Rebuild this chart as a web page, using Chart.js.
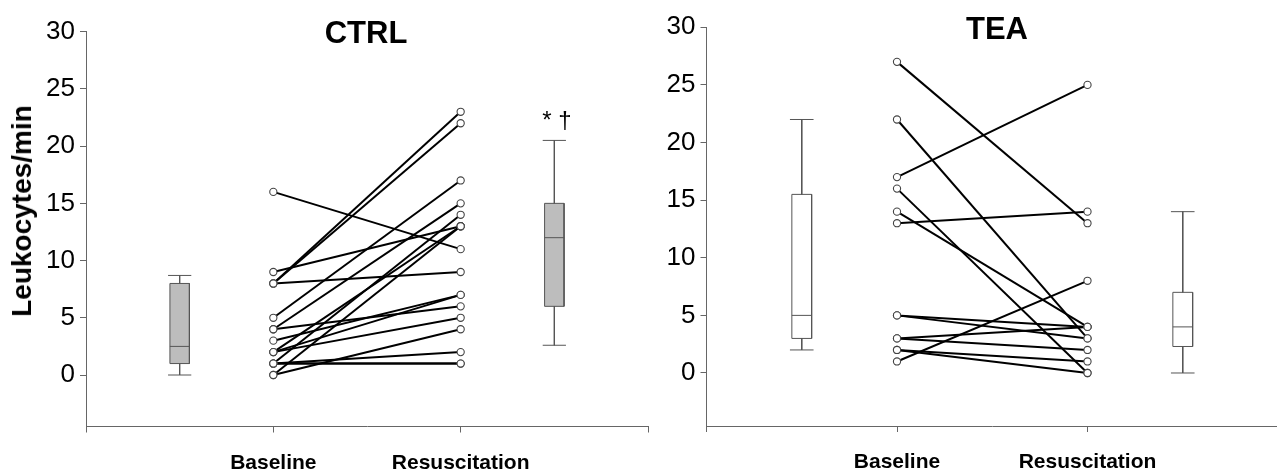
<!DOCTYPE html>
<html><head><meta charset="utf-8">
<script src="https://cdn.jsdelivr.net/npm/chart.js@4.4.0/dist/chart.umd.min.js"></script>
<style>
html,body{margin:0;padding:0;background:#fff;overflow:hidden;width:1277px;height:472px;}
#wrap{position:relative;width:1277px;height:472px;overflow:hidden;}
canvas{position:absolute;top:0;}
.t{position:absolute;font-family:"Liberation Sans",Arial,sans-serif;color:#000;white-space:nowrap;transform:translate(-50%,-50%);}
</style></head><body>
<div id="wrap">
<canvas id="c1" style="left:0" width="666" height="472"></canvas>
<canvas id="c2" style="left:640px" width="656" height="472"></canvas>
<div class="t" id="ylab" style="left:22px;top:211px;font-weight:bold;font-size:28px;transform:translate(-50%,-50%) rotate(-90deg);">Leukocytes/min</div>
<div class="t" style="left:366px;top:33px;font-weight:bold;font-size:31px;">CTRL</div>
<div class="t" style="left:997px;top:29px;font-weight:bold;font-size:31px;">TEA</div>
<div class="t" style="left:557px;top:120px;font-size:24px;">* †</div>
</div>
<script>
// ---- data ----
const categories = ['Baseline', 'Resuscitation'];
const xTickValues = [0, 1, 2, 3];
const xTickLabels = ['', 'Baseline', 'Resuscitation', ''];
const yTicks = [0, 5, 10, 15, 20, 25, 30];
const catX = [1, 2];
const boxX = [0.5, 2.5];

const ctrlBaseline = [16, 9, 8, 8, 8, 5, 4, 4, 3, 2, 2, 2, 1, 1, 1, 1, 0, 0];
const ctrlResus    = [11, 13, 23, 22, 9, 17, 15, 6, 7, 13, 7, 5, 14, 2, 1, 1, 13, 4];
const teaBaseline  = [27, 22, 17, 16, 14, 13, 5, 5, 3, 3, 2, 2, 1];
const teaResus     = [13, 3, 25, 0, 4, 14, 4, 3, 4, 2, 1, 0, 8];

// box stats: [min(whisker), q1, median, q3, max(whisker)]
const ctrlBoxBaseline = [0, 1, 2.5, 8, 8.7];
const ctrlBoxResus    = [2.6, 6, 12, 15, 20.5];
const teaBoxBaseline  = [2, 3, 5, 15.5, 22];
const teaBoxResus     = [0, 2.3, 4, 7, 14];

// ---- helpers ----
const FONT = '"Liberation Sans", Arial, sans-serif';
function boxDatasets(x, s, fillColor, hw, cw) {
  const rect = [{x:x-hw,y:s[1]},{x:x-hw,y:s[3]},{x:x+hw,y:s[3]},{x:x+hw,y:s[1]},{x:x-hw,y:s[1]}];
  const wh = [
    {x:x-cw,y:s[4]},{x:x+cw,y:s[4]},{x:x+cw,y:null},
    {x:x,y:s[4]},{x:x,y:s[3]},{x:x,y:null},
    {x:x,y:s[1]},{x:x,y:s[0]},{x:x,y:null},
    {x:x-cw,y:s[0]},{x:x+cw,y:s[0]},{x:x+cw,y:null},
    {x:x-hw,y:s[2]},{x:x+hw,y:s[2]}
  ];
  return [
    {data: rect, fill: 'shape', backgroundColor: fillColor, borderColor: '#555', borderWidth: 1, pointRadius: 0, order: 3},
    {data: wh, fill: false, borderColor: '#555', borderWidth: 1, pointRadius: 0, spanGaps: false, order: 2}
  ];
}
function makeChart(id, base, res, boxes, fillColor, opts) {
  const ds = [];
  const pts = [];
  base.forEach((b, i) => {
    ds.push({data: [{x:catX[0], y:b}, {x:catX[1], y:res[i]}], borderColor: '#000', borderWidth: 2, pointRadius: 0, fill: false, order: 1});
    pts.push({x:catX[0], y:b}, {x:catX[1], y:res[i]});
  });
  ds.push({data: pts, showLine: false, pointRadius: 3.6, pointBorderWidth: 1.1, pointBorderColor: '#444', pointBackgroundColor: '#fff', order: 0});
  boxes.forEach((s, i) => ds.push(...boxDatasets(boxX[i], s, fillColor, opts.hw, opts.cw)));
  return new Chart(document.getElementById(id), {
    type: 'line',
    data: {datasets: ds},
    options: {
      responsive: false, animation: false, devicePixelRatio: 1,
      layout: {padding: {top: opts.top, right: opts.right, left: 0, bottom: 0}},
      plugins: {legend: {display: false}, tooltip: {enabled: false}, title: {display: false}},
      elements: {line: {tension: 0}},
      scales: {
        x: {
          type: 'linear', min: 0, max: 3,
          afterBuildTicks: s => { s.ticks = xTickValues.map(v => ({value: v})); },
          afterFit: s => { s.height = opts.xh; },
          ticks: {callback: v => xTickLabels[v] || '', color: '#000', padding: 18, maxRotation: 0, autoSkip: false,
                  font: {family: FONT, size: 21, weight: 'bold'}},
          grid: {drawOnChartArea: false, drawTicks: true, tickLength: 6, color: '#666'},
          border: {display: true, color: '#666', width: 1}
        },
        y: {
          type: 'linear', min: opts.ymin, max: 30,
          afterBuildTicks: s => { s.ticks = yTicks.map(v => ({value: v})); },
          afterFit: s => { s.width = opts.yw; },
          ticks: {color: '#000', padding: 5, font: {family: FONT, size: 26}},
          grid: {drawOnChartArea: false, drawTicks: true, tickLength: 6, color: '#666'},
          border: {display: true, color: '#666', width: 1}
        }
      }
    }
  });
}
makeChart('c1', ctrlBaseline, ctrlResus, [ctrlBoxBaseline, ctrlBoxResus], '#bdbdbd',
  {top: 31.7, right: 5, xh: 45.5, yw: 86, ymin: -4.5, hw: 0.052, cw: 0.062});
makeChart('c2', teaBaseline, teaResus, [teaBoxBaseline, teaBoxResus], '#ffffff',
  {top: 27.3, right: 0, xh: 46, yw: 66.5, ymin: -4.6, hw: 0.052, cw: 0.062});
</script>
</body></html>
